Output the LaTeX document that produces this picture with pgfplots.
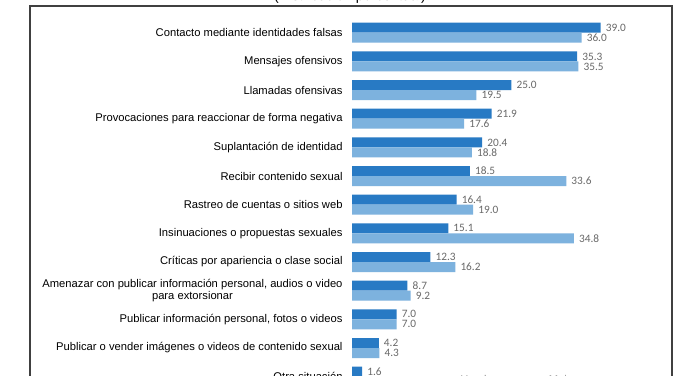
\documentclass[border=0pt]{standalone}
\usepackage{fontspec}
\setmainfont{Liberation Sans}
\newfontfamily\labelfont{Liberation Sans}
\newfontfamily\numfont{Carlito}
\usepackage{pgfplots}
\pgfplotsset{compat=1.18}
\definecolor{darkb}{RGB}{40,122,196}
\definecolor{lightb}{RGB}{125,178,222}
\definecolor{numgray}{RGB}{105,105,105}
\begin{document}
\begin{tikzpicture}
\useasboundingbox (0,0) rectangle (700pt,375pt);
\clip (0,0) rectangle (700pt,375pt);
\fill[white] (0,0) rectangle (700pt,375pt);
\draw[line width=1.3pt, black!75] (30pt,-20pt) |- (672pt,369pt) -- (672pt,-20pt);
\node[anchor=base, font=\fontsize{14}{16}\selectfont, inner sep=0pt] at (350pt,374pt) {(Distribución porcentual)};
\begin{axis}[
  at={(352pt,356.6pt)}, anchor=north west,
  scale only axis, width=318.85pt, height=372.6pt,
  xmin=0, xmax=50, ymin=-0.5, ymax=12.5, y dir=reverse,
  axis line style={draw=none}, tick style={draw=none},
  xtick=\empty, ytick={0,...,12},
  yticklabels={
    {Contacto mediante identidades falsas},
    {Mensajes ofensivos},
    {Llamadas ofensivas},
    {Provocaciones para reaccionar de forma negativa},
    {Suplantación de identidad},
    {Recibir contenido sexual},
    {Rastreo de cuentas o sitios web},
    {Insinuaciones o propuestas sexuales},
    {Críticas por apariencia o clase social},
    {Amenazar con publicar información personal, audios o video\\para extorsionar},
    {Publicar información personal, fotos o videos},
    {Publicar o vender imágenes o videos de contenido sexual},
    {Otra situación}},
  yticklabel style={font=\labelfont\fontsize{11.2}{12.3}\selectfont, align=center, inner sep=0pt, xshift=-5pt, text=black},
  xbar=0pt, bar width=10pt,
  /pgf/number format/assume math mode=true,
  nodes near coords={\pgfmathprintnumber[fixed,fixed zerofill,precision=1]{\pgfplotspointmeta}},
  point meta=x,
  every node near coord/.append style={font=\numfont\fontsize{11.3}{12}\selectfont, text=numgray, anchor=west, inner sep=0pt, xshift=5pt},
  clip=false,
  legend style={at={(0.527,0.052)}, anchor=north, draw=none, legend columns=2, font=\labelfont\fontsize{11.2}{12.3}\selectfont, text=black!45, /tikz/every even column/.append style={column sep=30pt}},
  legend image code/.code={\fill[#1] (0pt,-4pt) rectangle (9pt,4pt);},
]
\addplot[draw=none, fill=darkb, bar shift=5pt] coordinates {
(39.0,0) (35.3,1) (25.0,2) (21.9,3) (20.4,4) (18.5,5) (16.4,6) (15.1,7) (12.3,8) (8.7,9) (7.0,10) (4.2,11) (1.6,12)};
\addplot[draw=none, fill=lightb, bar shift=-5pt] coordinates {
(36.0,0) (35.5,1) (19.5,2) (17.6,3) (18.8,4) (33.6,5) (19.0,6) (34.8,7) (16.2,8) (9.2,9) (7.0,10) (4.3,11) (1.2,12)};
\legend{Hombres, Mujeres}
\end{axis}
\end{tikzpicture}
\end{document}
